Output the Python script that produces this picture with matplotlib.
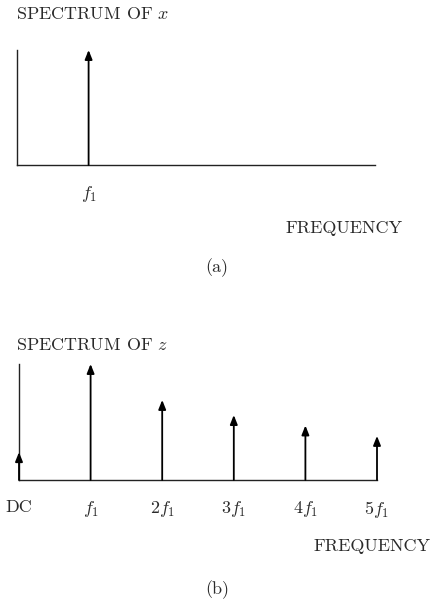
import matplotlib
matplotlib.use("Agg")
import matplotlib.pyplot as plt

plt.rcParams['font.family'] = ['cmr10', 'DejaVu Serif']
plt.rcParams['mathtext.fontset'] = 'cm'
plt.rcParams['axes.formatter.use_mathtext'] = True

# Data
spec_x_freqs = [1]
spec_x_amps = [1.0]
spec_z_freqs = [0, 1, 2, 3, 4, 5]
spec_z_amps = [0.24, 1.0, 0.69, 0.56, 0.47, 0.38]
tick_labels_a = [r'$f_1$']
tick_labels_b = ['DC', r'$f_1$', r'$2f_1$', r'$3f_1$', r'$4f_1$', r'$5f_1$']

W, H = 433, 607
fig = plt.figure(figsize=(W / 100, H / 100), dpi=100)
TXT = '#2a2a2a'
FS = 13


def fx(px):
    return px / W


def fy(py):
    return 1 - py / H


def make_axes(left, right, top, bottom):
    ax = fig.add_axes([fx(left), fy(bottom), fx(right) - fx(left), fy(top) - fy(bottom)])
    ax.set_xlim(0, 5)
    ax.set_ylim(0, 1)
    for s in ['top', 'right']:
        ax.spines[s].set_visible(False)
    for s in ['left', 'bottom']:
        ax.spines[s].set_linewidth(1.0)
        ax.spines[s].set_color('#222222')
    ax.set_yticks([])
    ax.tick_params(axis='x', length=0, pad=14, labelsize=FS, colors=TXT)
    ax.patch.set_alpha(0)
    return ax


def arrows(ax, xs, ys):
    for x, y in zip(xs, ys):
        ax.annotate('', xy=(x, y), xytext=(x, 0),
                    arrowprops=dict(arrowstyle='-|>,head_length=0.55,head_width=0.22',
                                    lw=1.3, color='black', shrinkA=0, shrinkB=0),
                    annotation_clip=False)


# Panel (a)
ax1 = make_axes(17, 375, 50, 165)
arrows(ax1, spec_x_freqs, spec_x_amps)
ax1.set_xticks(spec_x_freqs)
ax1.set_xticklabels(tick_labels_a)
fig.text(fx(16), fy(14), r'SPECTRUM OF $x$', fontsize=FS, color=TXT, va='center', ha='left')
fig.text(fx(402), fy(228), 'FREQUENCY', fontsize=FS, color=TXT, va='center', ha='right')
fig.text(fx(217), fy(268), '(a)', fontsize=FS, color=TXT, va='center', ha='center')

# Panel (b)
ax2 = make_axes(19, 377, 364, 480)
arrows(ax2, spec_z_freqs, spec_z_amps)
ax2.set_xticks(spec_z_freqs)
ax2.set_xticklabels(tick_labels_b)
fig.text(fx(16), fy(345), r'SPECTRUM OF $z$', fontsize=FS, color=TXT, va='center', ha='left')
fig.text(fx(430), fy(546), 'FREQUENCY', fontsize=FS, color=TXT, va='center', ha='right')
fig.text(fx(217), fy(590), '(b)', fontsize=FS, color=TXT, va='center', ha='center')

fig.savefig('out.png', dpi=100)
